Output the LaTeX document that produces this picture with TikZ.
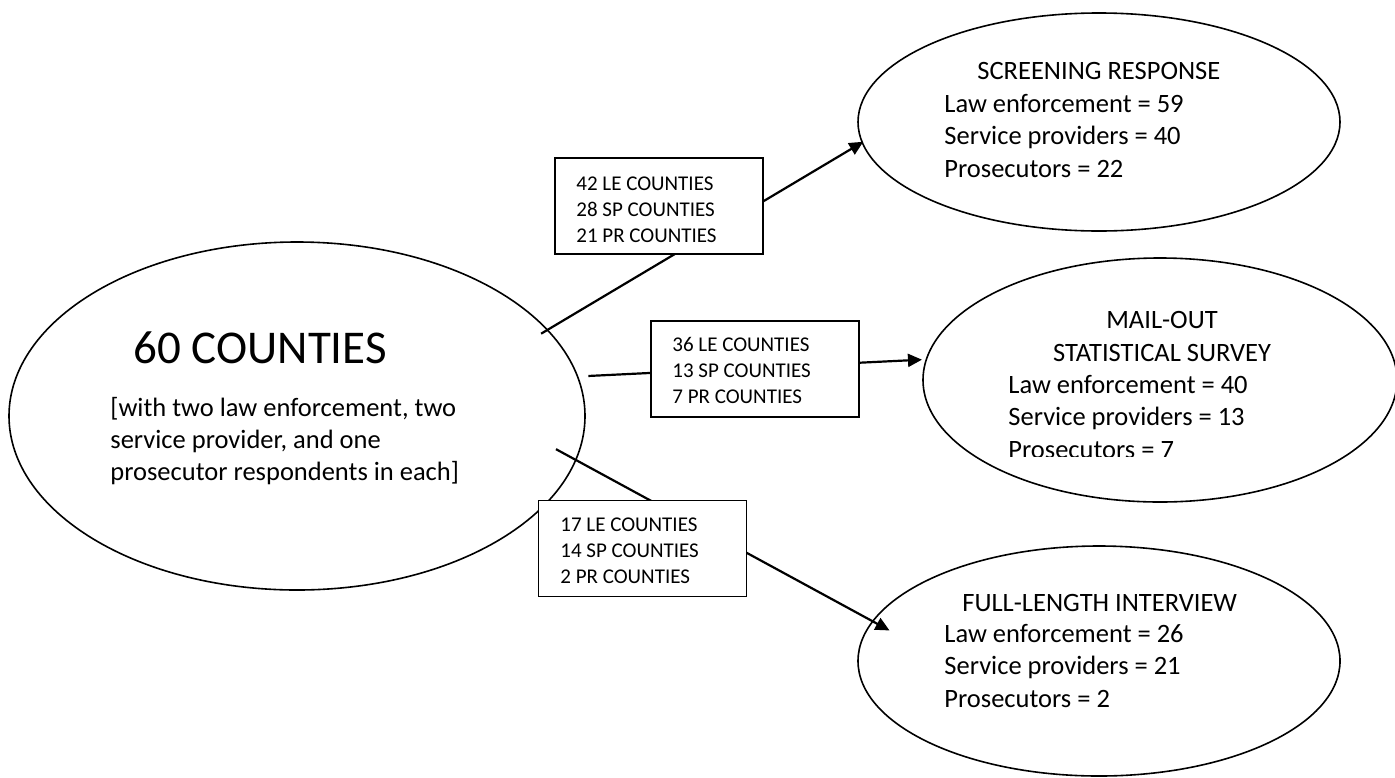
\documentclass[tikz,border=0pt]{standalone}
\usepackage{fontspec}
\setmainfont{Carlito}
\usetikzlibrary{shapes.geometric,arrows.meta}

\begin{document}
\begin{tikzpicture}[x=0.5pt,y=-0.5pt,
	oval/.style={draw,ellipse,line width=0.8pt,inner sep=0pt},
	cntbox/.style={draw,fill=white,line width=0.9pt,minimum width=104pt,minimum height=48pt,inner sep=0pt},
	link/.style={line width=1.1pt,-{Triangle[length=7pt,width=6.5pt]}},
	body/.style={anchor=base west,align=left,inner sep=0pt,font=\fontsize{13.25}{16.25}\selectfont},
	small/.style={anchor=base west,align=left,inner sep=0pt,font=\fontsize{10.5}{13}\selectfont}]
	\useasboundingbox (0,0) rectangle (1395,777);
	\clip (0,0) rectangle (1395,777);
	% the four ovals
	\node[oval,minimum width=288pt,minimum height=174pt] (counties) at (297,416) {};
	\node[oval,minimum width=241pt,minimum height=109pt] (screen) at (1099,122) {};
	\node[oval,minimum width=237pt,minimum height=122pt] (mail) at (1160,380) {};
	\node[oval,minimum width=241pt,minimum height=115pt] (full) at (1099,661) {};
	% connectors
	\draw[link,shorten <=-4pt,shorten >=-1pt] (counties.19.6) -- (screen.185.8);
	\draw[link,shorten <=5pt,shorten >=1.8pt] (counties.8.25) -- (mail.175.6);
	\draw[link,shorten <=-11.6pt,shorten >=-9.9pt] (counties.-9.6) -- (full.170.2);
	% boxes on the connectors (text placed by its last baseline)
	\node[cntbox] (screenbox) at (659,206) {};
	\node[small] (screennum) at (576,242) {42 LE COUNTIES\\28 SP COUNTIES\\21 PR COUNTIES};
	\node[cntbox] (mailbox) at (755,369) {};
	\node[small] (mailnum) at (672,403) {36 LE COUNTIES\\13 SP COUNTIES\\7 PR COUNTIES};
	\node[cntbox] (fullbox) at (642.5,548.5) {};
	\node[small] (fullnum) at (560,583) {17 LE COUNTIES\\14 SP COUNTIES\\2 PR COUNTIES};
	% texts of the ovals
	\node[body,font=\fontsize{23.5}{28}\selectfont] (title) at (133,363) {60 COUNTIES};
	\node[body,font=\fontsize{13.25}{16}\selectfont] (note) at (110,480) {[with two law enforcement, two\\service provider, and one\\prosecutor respondents in each]};
	\node[body] (screenhead) at (977,79) {SCREENING RESPONSE};
	\node[body] (screentext) at (944,177) {Law enforcement = 59\\Service providers = 40\\Prosecutors = 22};
	\node[body,anchor=base,align=center] (mailhead) at (1162,361) {MAIL-OUT\\STATISTICAL SURVEY};
	\begin{scope}
		\clip (900,250) rectangle (1395,456);
		\node[body] (mailtext) at (1008,458) {Law enforcement = 40\\Service providers = 13\\Prosecutors = 7};
	\end{scope}
	\node[body] (fullhead) at (962,611) {FULL-LENGTH INTERVIEW};
	\node[body] (fulltext) at (944,707) {Law enforcement = 26\\Service providers = 21\\Prosecutors = 2};
\end{tikzpicture}
\end{document}
